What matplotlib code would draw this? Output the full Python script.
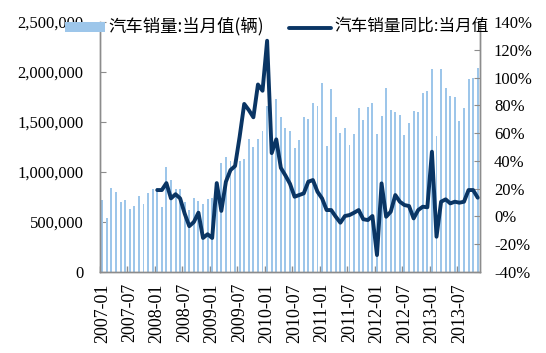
import matplotlib
matplotlib.use("Agg")
import matplotlib.pyplot as plt
import matplotlib.ticker as mticker
from matplotlib.patches import Rectangle
from matplotlib.lines import Line2D
import numpy as np
import pandas as pd

# ---- data ----
months = pd.period_range("2007-01", "2013-11", freq="M").strftime("%Y-%m").tolist()

sales = [720000, 540000, 843000, 800000, 703000, 720000, 630000, 660000, 760000, 680000, 788000, 828000,
         837000, 653000, 1053000, 920000, 827000, 827000, 700000, 620000, 737000, 710000, 683000, 727000,
         737000, 790000, 1095000, 1150000, 1108000, 1078000, 1110000, 1128000, 1330000, 1253000, 1327000, 1410000,
         1660000, 1287000, 1730000, 1553000, 1437000, 1410000, 1243000, 1320000, 1553000, 1530000, 1693000, 1660000,
         1893000, 1260000, 1827000, 1553000, 1387000, 1437000, 1270000, 1380000, 1637000, 1520000, 1647000, 1687000,
         1380000, 1560000, 1837000, 1620000, 1603000, 1570000, 1370000, 1493000, 1610000, 1603000, 1793000, 1810000,
         2030000, 1360000, 2030000, 1837000, 1760000, 1753000, 1510000, 1643000, 1927000, 1937000, 2037000]

yoy = [None] * 12 + [
    19, 19, 24, 13, 16, 13, 2, -7, -4, 2.7, -15.5, -12.8,
    -15.5, 24, 4, 25, 33.4, 36.3, 57.4, 81, 76.6, 71.4, 95, 90.5,
    126.5, 45.6, 55.5, 35, 29.5, 23.5, 14.2, 15.4, 16.6, 25, 26.2, 17.8,
    13, 4.6, 4.6, -0.2, -4.5, 0.3, 1, 2.7, 4.6, -2, -2.6, 0.3,
    -27.8, 23.8, -0.2, 3.4, 15.4, 10.6, 8.2, 7.5, -1.4, 4.6, 7, 6.6,
    46.6, -14.6, 10.6, 12.3, 9.4, 10.6, 9.9, 10.6, 19, 19, 13.5]

bar_label = "汽车销量:当月值(辆)"
line_label = "汽车销量同比:当月值"

# ---- style ----
bar_color = "#9DC6EA"
line_color = "#0A3564"
spine_color = "#8C8C8C"
serif = ["Liberation Serif", "DejaVu Serif"]
cjk = ["Noto Sans CJK SC", "DejaVu Sans"]

W, H = 546, 353
fig = plt.figure(figsize=(W / 100, H / 100), dpi=100)
ax = fig.add_axes([100 / W, 1 - 272 / H, 380 / W, 250 / H])

x = np.arange(len(months))
ax.bar(x, sales, width=0.42, color=bar_color, zorder=2)
ax.set_xlim(-0.5, len(months) - 0.5)
ax.set_ylim(0, 2500000)
ax.yaxis.set_major_locator(mticker.MultipleLocator(500000))
ax.yaxis.set_major_formatter(mticker.FuncFormatter(lambda v, p: f"{int(v):,}"))

# x ticks: labels every 6 months at category centres, tick marks at boundaries
lab_pos = x[::6]
ax.set_xticks(lab_pos)
ax.set_xticklabels([months[i] for i in lab_pos], rotation=90, fontsize=13, family=serif)
ax.set_xticks(np.arange(-0.5, len(months), 6), minor=True)
ax.tick_params(axis="x", which="major", length=0, pad=8)
ax.tick_params(axis="x", which="minor", length=4, direction="in", color=spine_color, width=1)
ax.tick_params(axis="y", which="major", length=4, direction="in", color=spine_color, pad=12,
               labelsize=12)
for lbl in ax.get_yticklabels():
    lbl.set_family(serif)

ax2 = ax.twinx()
yoy_arr = np.array([np.nan if v is None else v for v in yoy], dtype=float)
ax2.plot(x, yoy_arr, color=line_color, lw=2.8, solid_joinstyle="round", solid_capstyle="round", zorder=3)
ax2.set_ylim(-40, 140)
ax2.yaxis.set_major_locator(mticker.MultipleLocator(20))
ax2.yaxis.set_major_formatter(mticker.FuncFormatter(lambda v, p: f"{v:.0f}%"))
ax2.tick_params(axis="y", length=4, direction="in", color=spine_color, pad=10, labelsize=12)
for lbl in ax2.get_yticklabels():
    lbl.set_family(serif)

for a in (ax, ax2):
    a.spines["top"].set_visible(False)
    for s in ("left", "right", "bottom"):
        a.spines[s].set_color(spine_color)
        a.spines[s].set_linewidth(1)

# ---- legend (manual, at the top) ----
fig.patches.append(Rectangle((65 / W, 1 - 32 / H), 40 / W, 10 / H, transform=fig.transFigure,
                             facecolor=bar_color, edgecolor="none", zorder=10))
fig.text(108 / W, 1 - 26 / H, bar_label, fontsize=12.5, family=cjk, va="center", ha="left", zorder=11)
fig.lines.append(Line2D([289 / W, 331 / W], [1 - 28 / H, 1 - 28 / H], transform=fig.transFigure,
                        color=line_color, lw=2.8, solid_capstyle="round", zorder=10))
fig.text(334 / W, 1 - 26 / H, line_label, fontsize=12, family=cjk, va="center", ha="left", zorder=11)

fig.savefig("out.png", dpi=100)
